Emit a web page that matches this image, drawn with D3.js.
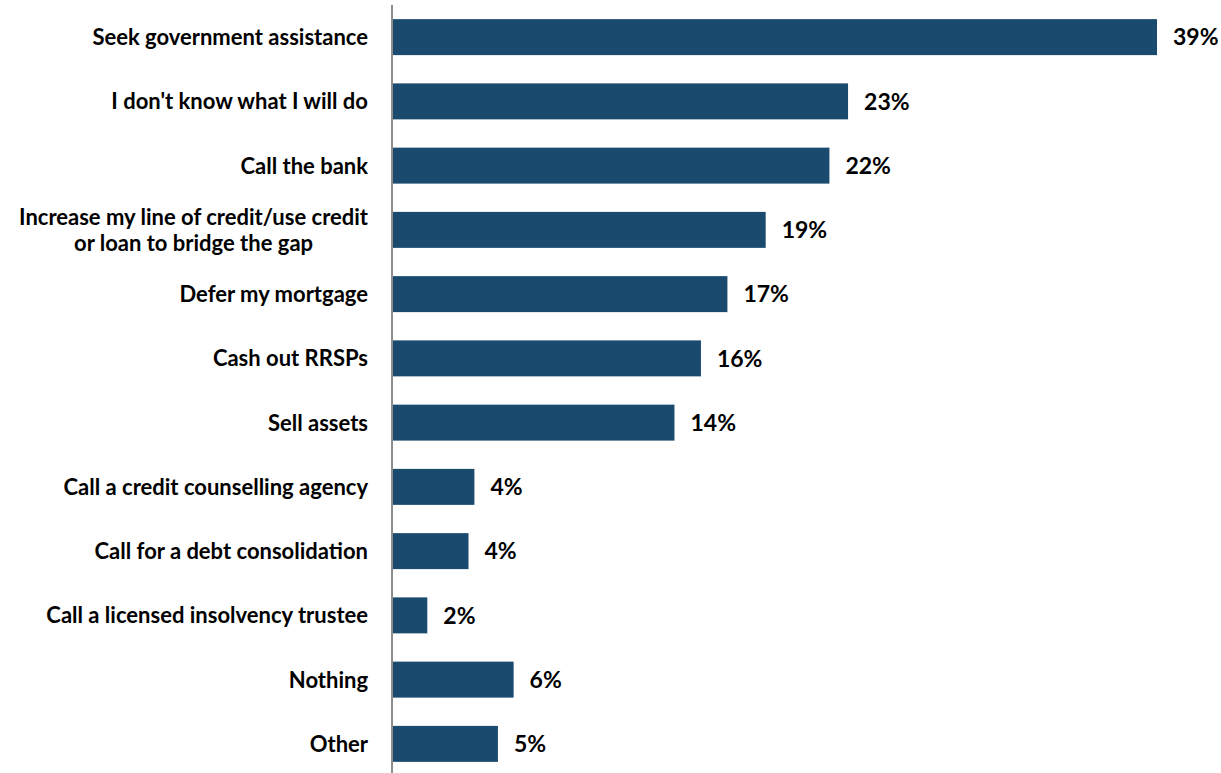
<!DOCTYPE html>
<html>
<head>
<meta charset="utf-8">
<script src="https://cdn.jsdelivr.net/npm/d3@7"></script>
<style>
    html, body { margin: 0; padding: 0; background: #fff; }
    svg { display: block; }
</style>
</head>
<body>
<svg id="bar_region"></svg>
<script>
const categories = [
    'Seek government assistance',
    "I don't know what I will do",
    'Call the bank',
    'Increase my line of credit/use credit|or loan to bridge the gap',
    'Defer my mortgage',
    'Cash out RRSPs',
    'Sell assets',
    'Call a credit counselling agency',
    'Call for a debt consolidation',
    'Call a licensed insolvency trustee',
    'Nothing',
    'Other'
];
const values = [39, 23.25, 22.3, 19.05, 17.1, 15.75, 14.4, 4.2, 3.9, 1.8, 6.2, 5.4];
const value_labels = ['39%', '23%', '22%', '19%', '17%', '16%', '14%', '4%', '4%', '2%', '6%', '5%'];

class HBarChart{
    constructor(config, data){
        this.config = {
            parent: config.parent || '#bar_region',
            width: config.width || 1221,
            height: config.height || 773,
            margin: config.margin || {top:5, right:64, bottom:0, left:392}
        };
        this.data = data;
        this.init();
    }

    init(){
        const c = this.config;
        this.svg = d3.select(c.parent)
            .attr('width', c.width)
            .attr('height', c.height);

        this.chart = this.svg.append('g')
            .attr('transform', `translate(${c.margin.left}, ${c.margin.top})`);

        this.inner_width = c.width - c.margin.left - c.margin.right;
        this.inner_height = 771;

        this.yscale = d3.scaleBand()
            .domain(this.data.map(d => d.cat))
            .range([0, this.inner_height])
            .paddingInner(0.44)
            .paddingOuter(0.22);

        this.xscale = d3.scaleLinear()
            .domain([0, d3.max(this.data, d => d.value)])
            .range([0, 765]);

        this.render();
    }

    render(){
        const font = "'Lato', 'Open Sans', sans-serif";

        this.chart.selectAll('.bar')
            .data(this.data)
            .join('rect')
            .attr('class', 'bar')
            .attr('x', 0)
            .attr('y', d => this.yscale(d.cat))
            .attr('width', d => this.xscale(d.value))
            .attr('height', this.yscale.bandwidth())
            .attr('fill', '#1a4a6e');

        this.chart.selectAll('.val')
            .data(this.data)
            .join('text')
            .attr('class', 'val')
            .attr('x', d => this.xscale(d.value) + 16)
            .attr('y', d => this.yscale(d.cat) + this.yscale.bandwidth()/2)
            .attr('dy', '0.36em')
            .attr('font-family', font)
            .attr('font-weight', 'bold')
            .attr('font-size', 23)
            .attr('fill', '#000')
            .text(d => d.label);

        // category labels, wrapped ones centred on their widest line
        const cats = this.chart.selectAll('.cat')
            .data(this.data)
            .join('text')
            .attr('class', 'cat')
            .attr('font-family', font)
            .attr('font-weight', 'bold')
            .attr('font-size', 22)
            .attr('fill', '#000');

        cats.each(function(d){
            const t = d3.select(this);
            d.cat.split('|').forEach(l => t.append('tspan').text(l));
        });

        const ys = this.yscale;
        cats.each(function(d){
            const t = d3.select(this);
            const spans = t.selectAll('tspan');
            const n = spans.size();
            const cy = ys(d.cat) + ys.bandwidth()/2;
            if(n === 1){
                t.attr('text-anchor', 'end');
                spans.attr('x', -24).attr('y', cy).attr('dy', '0.36em');
            } else {
                let w = 0;
                spans.each(function(){ w = Math.max(w, this.getComputedTextLength()); });
                t.attr('text-anchor', 'middle');
                spans.attr('x', -24 - w/2)
                    .attr('y', (s, i) => cy + (i - (n-1)/2) * 26)
                    .attr('dy', '0.36em');
            }
        });

        this.chart.append('line')
            .attr('x1', 0).attr('x2', 0)
            .attr('y1', 0).attr('y2', 773)
            .attr('stroke', '#8c8c8c')
            .attr('stroke-width', 2);
    }
}

const data = categories.map((c, i) => ({cat: c, value: values[i], label: value_labels[i]}));
new HBarChart({parent: '#bar_region'}, data);
</script>
</body>
</html>
